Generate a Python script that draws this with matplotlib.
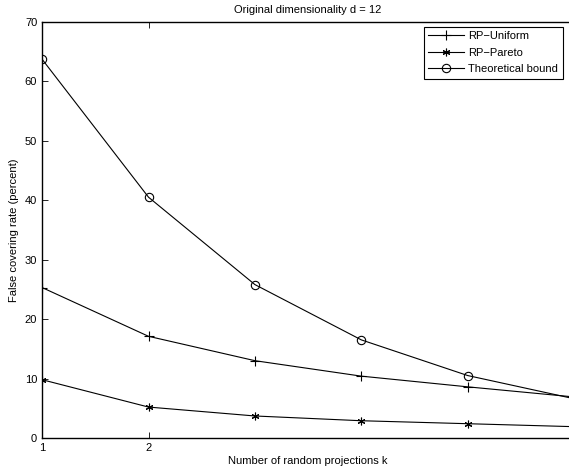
import matplotlib
matplotlib.use("Agg")
import matplotlib.pyplot as plt

plt.rcParams['font.family'] = ['Liberation Sans', 'DejaVu Sans']

# number of random projections k
k = [1, 2, 3, 4, 5, 6]
# false covering rate (percent)
rp_uniform = [25.3, 17.1, 13.0, 10.4, 8.6, 6.9]
rp_pareto = [9.8, 5.2, 3.7, 2.9, 2.4, 1.9]
theory = [63.7, 40.5, 25.8, 16.5, 10.5, 6.6]

fig = plt.figure(figsize=(5.69, 4.74), dpi=100)
# right side of the axes sits just past the image edge, like the reference
ax = fig.add_axes([0.074, 0.076, 0.935, 0.878])

ax.plot(k, rp_uniform, 'k-', marker='+', ms=7, mew=0.8, lw=0.8, label='RP\u2212Uniform')
ax.plot(k, rp_pareto, 'k-', marker=(6, 2, 0), ms=5.5, mew=0.8, lw=0.8, label='RP\u2212Pareto')
ax.plot(k, theory, 'k-', marker='o', ms=6, mfc='none', mew=0.8, lw=0.8, label='Theoretical bound')

ax.set_xlim(1, 6)
ax.set_ylim(0, 70)
ax.set_xticks([1, 2])
ax.set_yticks(range(0, 71, 10))
ax.tick_params(direction='in', top=True, right=False, labelsize=8, length=4, width=0.6)
ax.spines['right'].set_visible(False)
for s in ax.spines.values():
    s.set_linewidth(1.0)

ax.set_title('Original dimensionality d = 12', fontsize=8, pad=6)
ax.set_xlabel('Number of random projections k', fontsize=8, labelpad=2)
ax.set_ylabel('False covering rate (percent)', fontsize=8, labelpad=4)

leg = ax.legend(loc='upper right', bbox_to_anchor=(0.989, 0.944), bbox_transform=fig.transFigure,
                fontsize=8, fancybox=False, framealpha=1, edgecolor='k',
                handlelength=3.2, borderpad=0.4, labelspacing=0.6, handletextpad=0.4,
                borderaxespad=0)
leg.get_frame().set_linewidth(0.8)

fig.savefig('out.png', dpi=100)
